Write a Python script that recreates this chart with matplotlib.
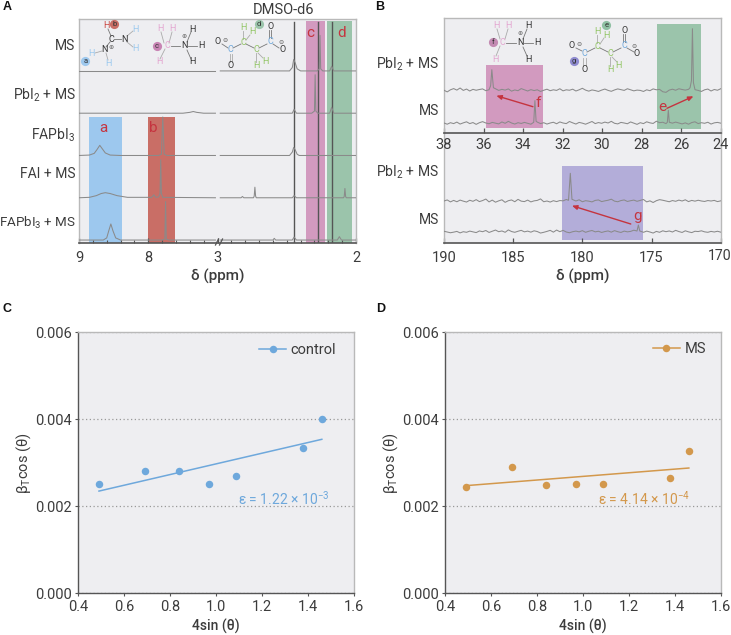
import matplotlib
matplotlib.use('Agg')
import matplotlib.pyplot as plt
import numpy as np

plt.rcParams['font.family'] = ['Roboto', 'DejaVu Sans']
plt.rcParams['mathtext.fontset'] = 'custom'
plt.rcParams['mathtext.rm'] = 'Roboto'
plt.rcParams['mathtext.default'] = 'regular'

W, H = 731, 635

# ---- panel A: vertices (ppm, height) of each 1H trace, left part then right part
a_labels = ['MS', r'PbI$_2$ + MS', r'FAPbI$_3$', 'FAI + MS', r'FAPbI$_3$ + MS']
a_label_y = [46, 95, 135, 174, 223]
a_label_size = [10, 10, 10, 10, 9.6]
a_offsets = [4, 3, 2, 1, 0]
a_left = [
    ([9.0, 7.03], [0, 0]),
    ([9.0, 7.5, 7.4, 7.35, 7.3, 7.2, 7.03], [0, 0, 0.02, 0.04, 0.02, 0, 0]),
    ([9.0, 8.85, 8.78, 8.74, 8.70, 8.66, 8.62, 8.55, 8.4, 7.85, 7.81, 7.79, 7.77, 7.73, 7.03],
     [0, 0.01, 0.05, 0.14, 0.24, 0.15, 0.06, 0.01, 0, 0, 0.03, 0.91, 0.03, 0, 0]),
    ([9.0, 8.85, 8.75, 8.68, 8.62, 8.55, 8.45, 8.3, 7.95, 7.92, 7.89, 7.85, 7.83, 7.82, 7.81, 7.79, 7.03],
     [0, 0.01, 0.05, 0.1, 0.12, 0.1, 0.05, 0.01, 0.01, 0.07, 0.01, 0.02, 0.1, 0.9, 0.1, 0.01, 0]),
    ([9.0, 8.65, 8.6, 8.57, 8.54, 8.51, 8.47, 8.4, 7.8, 7.76, 7.75, 7.74, 7.7, 7.03],
     [0, 0, 0.05, 0.22, 0.38, 0.22, 0.05, 0, 0, 0.02, 0.91, 0.02, 0, 0]),
]
a_right = [
    ([2.98, 2.48, 2.46, 2.45, 2.44, 2.425, 2.4, 2.28, 2.265, 2.26, 2.255, 2.24, 2.19, 2.176, 2.16, 2.0],
     [0, 0, 0.08, 0.27, 0.2, 0.05, 0, 0, 0.05, 0.84, 0.05, 0, 0, 0.11, 0, 0]),
    ([2.98, 2.46, 2.447, 2.43, 2.32, 2.30, 2.295, 2.29, 2.275, 2.19, 2.176, 2.16, 2.0],
     [0, 0, 0.09, 0, 0, 0.05, 0.91, 0.05, 0, 0, 0.14, 0, 0]),
    ([2.98, 2.48, 2.46, 2.45, 2.44, 2.425, 2.41, 2.0],
     [0, 0, 0.08, 0.19, 0.14, 0.03, 0, 0]),
    ([2.98, 2.83, 2.82, 2.81, 2.74, 2.735, 2.73, 2.725, 2.72, 2.46, 2.447, 2.43, 2.09, 2.085, 2.08, 2.075, 2.07, 2.0],
     [0, 0, 0.03, 0, 0, 0.04, 0.25, 0.04, 0, 0, 0.05, 0, 0, 0.03, 0.22, 0.03, 0, 0]),
    ([2.98, 2.6, 2.59, 2.58, 2.46, 2.447, 2.43, 2.135, 2.12, 2.105, 2.0],
     [0, 0, 0.04, 0, 0, 0.07, 0, 0, 0.08, 0, 0]),
]
a_major = [9, 8, 3, 2]
a_minor = [8.8, 8.6, 8.4, 8.2, 7.8, 7.6, 7.4, 7.2, 2.9, 2.8, 2.7, 2.6, 2.5, 2.4, 2.3, 2.2, 2.1]
a_vlines = [2.447, 2.277, 2.176]

# ---- panel B: 13C traces
b1_ticks = [38, 36, 34, 32, 30, 28, 26, 24]
b2_ticks = [190, 185, 180, 175, 170]
b1_pbi_noise = [0.3, -0.8, 0.6, 1.4, 0.4, 1.8, 0.2, 1.1, -0.2, 0.9, 0.3, 0.8, 1.2, 0.0, -0.6, 0.5, 1.3, 0.2, 0.9, 0.4, 1.2,
                -0.3, 0.5, 0.0, 1.4, 0.6, -0.2, 0.7, 0.1, 0.6, -0.5, 0.3, 1.0, 0.0, 0.6, 0.2, 1.3, -0.1, 0.6, 0.3, 1.0,
                -0.2, 0.6, 1.6, 0.4, -0.3, 0.5, 0.1, -0.5, 0.4, 1.1, 0.2, -0.4, 0.5, 1.2, 0.7, 0.2, 1.3, 0.6, -0.1, 0.4,
                0.2, -0.5, 0.6, 0.0, 1.2, 0.6, 0.9, -0.7, -1.1, 0.4, 1.0, 0.3, 1.3, 0.8, 0.4, 0.9, -0.1, 0.6, 0.2, -0.5,
                0.6, 1.1, -0.2, 0.8, 0.3, 1.3]
b1_ms_noise = [0.2, -0.6, 0.4, -0.2, 0.8, -0.5, 0.3, 1.0, -0.2, 0.5, -0.7, 0.4, 1.1, 0.2, -0.3, 0.6, 0.1, -0.4, 0.9, 0.0, 1.3,
               0.2, -0.5, 0.4, -0.1, 0.6, 0.0, -0.6, 0.3, 0.8, -0.2, 0.4, -0.5, 0.2, 0.7, -0.3, 0.9, 0.2, -0.2, 1.2, 0.3,
               -0.5, 0.6, 0.1, -0.6, 0.3, 1.2, -0.2, 0.5, 0.0, 0.8, 0.2, 1.3, 0.0, -0.4, 0.6, 0.2, -0.3, 0.9, 0.1, -0.7,
               0.4, -0.2, 1.0, 0.3, -0.1, 1.4, 0.4, 0.7, -0.2, 0.5, 0.1, 0.8, 0.2, -0.4, 0.3, -0.6, 0.5, 1.0, -0.2, 0.4,
               0.0, 0.7, -0.5, 0.3, 0.6, 0.1]
b2_pbi_noise = [0.2, 0.9, -0.4, 0.6, -0.3, 0.8, 0.1, -0.5, 0.7, 0.0, 1.1, -0.2, 0.5, 1.5, -0.4, 0.8, -0.6, 0.3, 1.0, -0.7, 0.4,
                0.9, -0.3, 1.3, 0.1, -0.2, 0.8, -0.4, 0.3, 0.6, 1.6, -0.3, 0.2, -0.5, 0.4, -0.2, 0.5, 0.3, 1.2, -0.2, 0.6,
                0.2, 1.0, -0.3, 0.4, 0.1, -0.4, 0.6, 0.9, -0.2, 0.3, 0.7, 1.4, 0.1, -0.3, 0.5, 0.9, -0.1, 0.4, 0.8, 0.0,
                0.6, 1.2, -0.4, 0.3, -0.8, 0.4, 1.1, 0.7, 0.2, -0.3, 0.5, 0.0, 0.8, 0.2, 1.0, -0.2, 0.6, 0.1, 0.7, 0.2,
                -0.1, 0.5, 0.2, 0.6, -0.2, 0.3]
b2_ms_noise = [0.5, 0.0, -0.5, -0.1, 0.4, -0.6, 0.2, -0.2, 0.6, 0.1, -0.4, 0.7, 0.2, 1.0, -0.3, 0.5, 1.3, 0.2, 0.7, -0.2, 1.4,
               0.3, -0.2, 0.5, 1.1, 0.1, 0.6, -0.1, 0.8, 0.3, -0.7, -0.2, 0.4, 1.1, -0.1, 1.3, 0.2, 1.1, 0.0, -0.5, 0.2,
               0.6, 0.1, 0.9, -0.2, 0.5, 1.0, 0.1, 0.5, -0.3, 0.3, 0.7, -0.1, 0.9, 0.2, -0.3, 0.6, 0.1, 0.4, 1.2, 0.3,
               0.9, -0.2, 0.6, 0.0, -0.7, 0.4, -0.2, 0.8, 0.2, 0.7, 0.0, 1.1, 0.3, -0.3, 0.8, 0.1, -0.4, 0.5, 0.3, 0.8,
               0.1, -0.2, 0.4, 0.0, 0.5, -0.1]
b1_pbi_peaks = ([35.72, 35.64, 35.58, 35.5, 25.55, 25.48, 25.43, 25.38, 25.3], [1.0, 5.0, 21.0, 3.0, 3.0, 10.0, 62.0, 8.0, 1.0])
b1_ms_peaks = ([33.46, 33.4, 33.34, 26.7, 26.65, 26.6], [1.0, 22.7, 2.0, 1.0, 13.0, 1.0])
b2_pbi_peaks = ([181.0, 180.87, 180.75], [1.0, 28.0, 2.0])
b2_ms_peaks = ([176.05, 175.95, 175.85], [1.0, 7.0, 1.0])

# ---- panels C, D: Williamson-Hall plots
sin_theta = [0.49, 0.69, 0.84, 0.97, 1.085, 1.38, 1.46]
control_y = [0.00251, 0.00282, 0.00282, 0.00252, 0.00269, 0.00334, 0.00401]
ms_y = [0.00245, 0.00290, 0.00248, 0.00251, 0.00251, 0.00264, 0.00326]
fit_x = [0.49, 1.46]
control_fit = [0.00235, 0.00354]
ms_fit = [0.002475, 0.00288]

# ---- colours
BG = '#eeeef1'
FRAME = '#b9b9b9'
AXIS = '#555555'
TXT = '#3c3c3c'
TRACE = '#8a8a8a'
RED = '#c5343f'
BLUE = '#9dc8ee'
BROWN = '#c96e66'
PINK = '#d29abf'
GREEN = '#9bc4ab'
PURPLE = '#b3add9'
CTRL = '#6ea8dc'
MSCOL = '#d3984c'


def px_axes(x0, y0, x1, y1):
    return fig.add_axes([x0 / W, 1 - y1 / H, (x1 - x0) / W, (y1 - y0) / H])


def style(ax, pad=5.5):
    ax.set_facecolor(BG)
    for s in ['top', 'left', 'right']:
        ax.spines[s].set_color(FRAME)
        ax.spines[s].set_linewidth(1.0)
    ax.spines['bottom'].set_color(AXIS)
    ax.spines['bottom'].set_linewidth(1.2)
    ax.tick_params(axis='x', direction='in', length=3.5, width=0.9, color=AXIS, labelcolor=TXT,
                   labelsize=10.5, pad=pad)
    ax.set_yticks([])


fig = plt.figure(figsize=(W / 100, H / 100), dpi=100)


# piecewise scale for the broken ppm axis: 9-7 ppm, then 3-2 ppm at twice the scale
def ppm_fwd(p):
    p = np.asarray(p, dtype=float)
    return np.where(p >= 5, p - 9, -2 - 2 * (3 - p))


def ppm_inv(u):
    u = np.asarray(u, dtype=float)
    return np.where(u >= -2, u + 9, 3 + (u + 2) / 2)


# panel A
ax = px_axes(79, 18.5, 356, 243)
style(ax)
ax.set_xscale('function', functions=(ppm_fwd, ppm_inv))
ax.set_xlim(9, 2)
ax.set_ylim(-0.07, 5.24)
ax.set_xticks(a_major)
ax.set_xticklabels(['9', '8', '3', '2'])
ax.set_xticks(a_minor, minor=True)
ax.tick_params(axis='x', which='minor', direction='in', length=2.5, width=0.8, color=AXIS, labelbottom=False)
ax.axvspan(8.855, 8.38, ymin=0, ymax=0.563, color=BLUE, lw=0, zorder=1)
ax.axvspan(8.0, 7.62, ymin=0, ymax=0.563, color=BROWN, lw=0, zorder=1)
ax.axvspan(2.362, 2.225, ymin=0, ymax=0.987, color=PINK, lw=0, zorder=1)
ax.axvspan(2.21, 2.03, ymin=0, ymax=0.987, color=GREEN, lw=0, zorder=1)
for v in a_vlines:
    ax.axvline(v, ymin=0, ymax=0.985, color='#555555', lw=1.0, zorder=2)
for i, off in enumerate(a_offsets):
    lx, ly = a_left[i]
    rx, ry = a_right[i]
    ax.plot(lx, np.array(ly) + off, color=TRACE, lw=0.75, zorder=3)
    ax.plot(rx, np.array(ry) + off, color=TRACE, lw=0.75, zorder=3)
ax.set_xlabel('δ (ppm)', fontsize=11, color=TXT, labelpad=3, fontweight='medium')


def trace(ax, grid_from, grid_to, noise, peaks, base):
    x = np.linspace(grid_from, grid_to, len(noise))
    keep = np.ones(len(x), dtype=bool)
    for p in peaks[0]:
        keep &= np.abs(x - p) > abs(grid_from - grid_to) / 300
    xs = np.concatenate([x[keep], peaks[0]])
    ys = np.concatenate([1.5 * np.array(noise)[keep], peaks[1]])
    order = np.argsort(-xs)
    ax.plot(xs[order], ys[order] + base, color=TRACE, lw=0.75, zorder=3)


# panel B, upper and lower parts
ax1 = px_axes(444, 18, 720.7, 132.7)
style(ax1, pad=3.5)
ax1.set_zorder(3)
ax1.set_xlim(38, 24)
ax1.set_ylim(0, 114.7)
ax1.set_xticks(b1_ticks)
ax1.axvspan(35.875, 33.0, ymin=0.038, ymax=0.587, color=PINK, lw=0, zorder=1)
ax1.axvspan(27.22, 24.98, ymin=0.035, ymax=0.948, color=GREEN, lw=0, zorder=1)
trace(ax1, 38, 24, b1_pbi_noise, b1_pbi_peaks, 42)
trace(ax1, 38, 24, b1_ms_noise, b1_ms_peaks, 9.4)
red_arrow = dict(arrowstyle='-|>,head_width=0.13,head_length=0.3', color=RED, lw=1.0, shrinkA=0, shrinkB=0)
ax1.annotate('', xy=(35.35, 37), xytext=(33.5, 26), arrowprops=red_arrow, zorder=5)
ax1.annotate('', xy=(25.38, 36.4), xytext=(26.72, 24.4), arrowprops=red_arrow, zorder=5)

ax2 = px_axes(444, 132.7, 720.7, 243.3)
style(ax2)
ax2.spines['top'].set_visible(False)
ax2.set_xlim(190, 170)
ax2.set_ylim(0, 110.6)
ax2.set_xticks(b2_ticks)
ax2.set_xticklabels(['190', '185', '180', '175', ''])
ax2.axvspan(181.45, 175.6, ymin=0.03, ymax=0.70, color=PURPLE, lw=0, zorder=1)
trace(ax2, 190, 170, b2_pbi_noise, b2_pbi_peaks, 42)
trace(ax2, 190, 170, b2_ms_noise, b2_ms_peaks, 11.3)
ax2.annotate('', xy=(180.75, 37.6), xytext=(176.5, 19.3), arrowprops=red_arrow, zorder=5)
ax2.set_xlabel('δ (ppm)', fontsize=11, color=TXT, labelpad=3, fontweight='medium')


# panels C, D
def wh_panel(x0, x1, y, fit, col, name, eps, eps_x, eps_y, leg_anchor):
    a = px_axes(x0, 332.3, x1, 593.3)
    a.set_facecolor(BG)
    for s in ['top', 'right']:
        a.spines[s].set_color(FRAME)
        a.spines[s].set_linewidth(1.0)
    for s in ['left', 'bottom']:
        a.spines[s].set_color(AXIS)
        a.spines[s].set_linewidth(1.0)
    a.set_xlim(0.4, 1.6)
    a.set_ylim(0, 0.006)
    a.set_xticks([0.4, 0.6, 0.8, 1.0, 1.2, 1.4, 1.6])
    a.set_yticks([0, 0.002, 0.004, 0.006])
    a.set_yticklabels(['0.000', '0.002', '0.004', '0.006'])
    a.tick_params(direction='out', length=2.5, width=0.8, color=AXIS, labelcolor=TXT, labelsize=10.5, pad=2)
    a.grid(axis='y', color='#999999', ls=(0, (1, 2)), lw=0.9)
    a.set_axisbelow(True)
    a.plot(fit_x, fit, color=col, lw=1.1, zorder=2)
    a.plot(sin_theta, y, 'o', color=col, ms=5.4, mew=0, zorder=3)
    handle = plt.Line2D([], [], color=col, lw=1.1, marker='o', ms=5.4, mew=0)
    a.legend([handle], [name], loc='center right', bbox_to_anchor=leg_anchor, frameon=False, fontsize=10.5,
             handlelength=1.85, handletextpad=0.3, borderpad=0, borderaxespad=0, labelcolor=TXT)
    a.text(eps_x, eps_y, eps, color=col, fontsize=10, ha='center', va='center')
    a.set_xlabel('4sin (θ)', fontsize=10, color=TXT, labelpad=4, fontweight='medium')
    a.set_ylabel(r'β$_T$cos (θ)', fontsize=10.5, color=TXT, labelpad=2)


wh_panel(78.3, 354, control_y, control_fit, CTRL, 'control', r'ε = 1.22 × 10$^{-3}$', 1.294, 0.00217, (0.935, 0.932))
wh_panel(445.3, 721, ms_y, ms_fit, MSCOL, 'MS', r'ε = 4.14 × 10$^{-4}$', 1.265, 0.00217, (0.945, 0.935))

# overlay in pixel coordinates for the drawn molecules and the free labels
ov = fig.add_axes([0, 0, 1, 1], zorder=10)
ov.set_xlim(0, W)
ov.set_ylim(H, 0)
ov.axis('off')
ov.patch.set_alpha(0)

H_BLUE = '#9cc9ee'
H_PINK = '#e3a6d0'
H_GREEN = '#92c565'
DARK = '#333333'
H_RED = '#c9453f'

bonds = [
    ((108, 29), (111, 36), '#777777'), ((114, 39), (121, 39), '#777777'), ((127, 36), (133, 31), '#aaaaaa'),
    ((127, 42), (133, 47), '#aaaaaa'), ((110, 42), (106, 47), '#777777'), ((102, 51), (95, 53), '#aaaaaa'),
    ((106, 53), (108, 60), '#aaaaaa'),
    ((164, 43), (161, 32), '#aaaaaa'), ((169, 43), (172, 32), '#aaaaaa'), ((165, 49), (160, 59), '#aaaaaa'),
    ((171, 46), (180, 46), '#777777'), ((187, 42), (191, 32), '#777777'), ((188, 46), (197, 46), '#777777'),
    ((187, 50), (191, 59), '#777777'),
    ((222, 44), (228, 48), '#777777'), ((230, 54), (230, 62), '#aaaaaa'), ((232, 54), (232, 62), '#aaaaaa'),
    ((233, 48), (241, 44), '#777777'), ((243, 39), (243, 31), '#aaaaaa'), ((246, 40), (250, 35), '#aaaaaa'),
    ((246, 44), (254, 48), '#777777'), ((256, 53), (256, 62), '#aaaaaa'), ((258, 53), (263, 58), '#aaaaaa'),
    ((259, 48), (267, 44), '#777777'), ((269, 38), (269, 30), '#777777'), ((271, 38), (271, 30), '#777777'),
    ((273, 44), (279, 48), '#777777'),
    ((500, 39), (497, 29), '#aaaaaa'), ((505, 39), (508, 29), '#aaaaaa'), ((500, 46), (496, 56), '#aaaaaa'),
    ((506, 43), (516, 43), '#777777'), ((523, 39), (527, 29), '#777777'), ((524, 43), (533, 43), '#777777'),
    ((523, 47), (527, 56), '#777777'),
    ((576, 48), (582, 51), '#777777'), ((583, 58), (583, 66), '#aaaaaa'), ((586, 58), (586, 66), '#aaaaaa'),
    ((587, 52), (595, 48), '#777777'), ((597, 43), (597, 35), '#aaaaaa'), ((600, 44), (604, 38), '#aaaaaa'),
    ((600, 48), (608, 52), '#777777'), ((610, 57), (610, 66), '#aaaaaa'), ((612, 57), (617, 62), '#aaaaaa'),
    ((613, 52), (621, 48), '#777777'), ((623, 42), (623, 34), '#777777'), ((625, 42), (625, 34), '#777777'),
    ((627, 48), (634, 52), '#777777'),
]
for p, q, c in bonds:
    ov.plot([p[0], q[0]], [p[1], q[1]], color=c, lw=0.6)

atoms = [
    ('H', 106, 26, H_RED), ('C', 111.3, 39, DARK), ('N', 124.3, 39, DARK), ('H', 135, 30, H_BLUE), ('H', 135.7, 48.5, H_BLUE),
    ('N', 105, 50, DARK), ('H', 91.7, 53.5, H_BLUE), ('H', 108.3, 63.5, H_BLUE),
    ('C', 167, 46, H_PINK), ('H', 160, 28.5, H_PINK), ('H', 172.7, 28.5, H_PINK), ('H', 159, 62, H_PINK), ('N', 184, 46, DARK),
    ('H', 192.7, 29, DARK), ('H', 201, 46, DARK), ('H', 192.7, 62, DARK),
    ('O', 218, 41.3, DARK), ('C', 230.7, 50, CTRL), ('O', 230.7, 65.7, DARK), ('C', 243.3, 42.3, H_GREEN), ('H', 243.7, 28, H_GREEN),
    ('H', 252.7, 32, H_GREEN), ('C', 256.3, 50, H_GREEN), ('H', 256.6, 65, H_GREEN), ('H', 265, 61, H_GREEN), ('C', 270.3, 42, CTRL),
    ('O', 270.3, 26.5, DARK), ('O', 282.7, 50, DARK),
    ('C', 502.7, 42.7, H_PINK), ('H', 496, 26, H_PINK), ('H', 508.7, 26, H_PINK), ('H', 495, 59, H_PINK), ('N', 520, 42.7, DARK),
    ('H', 528.7, 25.5, DARK), ('H', 537, 42.7, DARK), ('H', 528.7, 59, DARK),
    ('O', 572, 45.5, DARK), ('C', 584.3, 54, CTRL), ('O', 584.7, 69.5, DARK), ('C', 597.3, 46.5, H_GREEN), ('H', 597.7, 32, H_GREEN),
    ('H', 606.7, 35, H_GREEN), ('C', 610.3, 53.7, H_GREEN), ('H', 610.3, 69, H_GREEN), ('H', 618.7, 65.7, H_GREEN), ('C', 624.3, 46, CTRL),
    ('O', 624.3, 30.5, DARK), ('O', 637, 53.7, DARK),
]
for s, x, y, c in atoms:
    ov.text(x, y, s, color=c, fontsize=6.5, ha='center', va='center')

charges = [('⊕', 111, 47.5), ('⊕', 184.3, 37), ('⊖', 224.7, 40), ('⊖', 280.7, 42), ('⊕', 520.3, 33.5), ('⊖', 579, 44), ('⊖', 634.3, 46.5)]
for s, x, y in charges:
    ov.text(x, y, s, color='#666666', fontsize=4.5, ha='center', va='center', family=['DejaVu Sans'])

badges = [('a', 85.3, 61, BLUE), ('b', 114.3, 24.3, BROWN), ('c', 156.7, 46, '#c884b4'), ('d', 258.7, 24.3, GREEN),
          ('f', 492.7, 41.5, '#c38ab2'), ('e', 606.3, 25, '#8fc0a3'), ('g', 574, 60.7, '#8f8bd0')]
for s, x, y, c in badges:
    ov.plot(x, y, 'o', color=c, ms=6.6, mew=0)
    ov.text(x, y, s, color=DARK, fontsize=5.5, ha='center', va='center')

for s, y, fs in zip(a_labels, a_label_y, a_label_size):
    ov.text(75.5, y, s, color=TXT, fontsize=fs, ha='right', va='center')
for s, y in [(r'PbI$_2$ + MS', 64), ('MS', 111), (r'PbI$_2$ + MS', 172), ('MS', 220)]:
    ov.text(439, y, s, color=TXT, fontsize=10, ha='right', va='center')
ov.text(284, 10.5, 'DMSO-d6', color=TXT, fontsize=10.5, ha='center', va='center')
for s, x, y in [('a', 103, 128), ('b', 153, 128), ('c', 310, 33), ('d', 342, 33), ('f', 538.7, 103), ('e', 662.7, 107), ('g', 637.7, 216)]:
    ov.text(x, y, s, color=RED, fontsize=11, ha='center', va='center')
for s, x, y in [('A', 7, 7), ('B', 380, 7), ('C', 7, 309), ('D', 381, 309)]:
    ov.text(x, y, s, color='#111111', fontsize=9, ha='center', va='center', fontweight='bold', family=['Liberation Sans'])
ov.text(719.5, 256.5, '170', color=TXT, fontsize=10.2, ha='center', va='center')

# break mark on the panel A axis
ov.plot([215.5, 218.5], [245, 239], color=AXIS, lw=0.9)
ov.plot([219.5, 222.5], [245, 239], color=AXIS, lw=0.9)

fig.savefig('out.png', dpi=100)
